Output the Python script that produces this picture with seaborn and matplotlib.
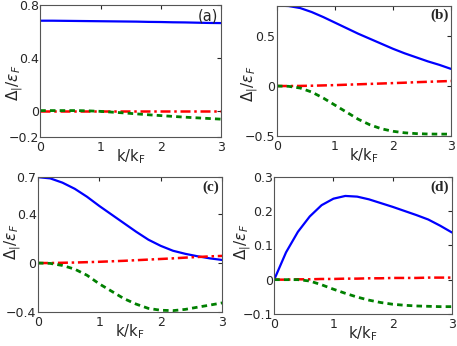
import matplotlib
matplotlib.use("Agg")
import matplotlib.pyplot as plt
import seaborn as sns

sns.set_style("white")
plt.rcParams['font.family'] = ['DejaVu Sans']
plt.rcParams['mathtext.fontset'] = 'dejavusans'

# k/kF sample points
k = [0, 0.2, 0.4, 0.6, 0.8, 1.0, 1.2, 1.4, 1.6, 1.8, 2.0, 2.2, 2.4, 2.6, 2.8, 3.0]

# panel (a)
a_blue = [0.680, 0.680, 0.679, 0.678, 0.677, 0.676, 0.675, 0.674, 0.673, 0.671, 0.670, 0.668, 0.667, 0.665, 0.663, 0.662]
a_red = [0.0, 0.0, 0.0, 0.0, 0.0, 0.0, 0.0, 0.0, 0.0, 0.0, 0.0, 0.0, 0.0, 0.0, 0.0, 0.0]
a_green = [0.0, 0.0, 0.0, 0.0, -0.002, -0.006, -0.012, -0.018, -0.025, -0.032, -0.038, -0.044, -0.050, -0.055, -0.060, -0.065]

# panel (b)
b_blue = [0.800, 0.795, 0.775, 0.735, 0.685, 0.630, 0.575, 0.520, 0.470, 0.420, 0.370, 0.325, 0.285, 0.245, 0.210, 0.170]
b_red = [0.0, 0.0, 0.001, 0.003, 0.006, 0.009, 0.013, 0.017, 0.021, 0.025, 0.029, 0.033, 0.038, 0.042, 0.046, 0.050]
b_green = [0.0, -0.003, -0.020, -0.060, -0.120, -0.190, -0.260, -0.330, -0.385, -0.425, -0.450, -0.465, -0.473, -0.477, -0.478, -0.478]

# panel (c)
c_blue = [0.700, 0.690, 0.655, 0.605, 0.540, 0.465, 0.395, 0.325, 0.255, 0.190, 0.140, 0.100, 0.075, 0.055, 0.038, 0.025]
c_red = [0.0, 0.0, 0.002, 0.004, 0.007, 0.010, 0.014, 0.018, 0.023, 0.028, 0.033, 0.038, 0.044, 0.049, 0.054, 0.058]
c_green = [0.0, -0.003, -0.020, -0.050, -0.100, -0.170, -0.230, -0.290, -0.335, -0.370, -0.385, -0.388, -0.378, -0.360, -0.343, -0.325]

# panel (d)
d_blue = [0.0, 0.080, 0.140, 0.185, 0.218, 0.237, 0.245, 0.243, 0.235, 0.224, 0.213, 0.201, 0.189, 0.176, 0.158, 0.138]
d_red = [0.0, 0.0, 0.001, 0.001, 0.002, 0.002, 0.003, 0.003, 0.004, 0.004, 0.005, 0.005, 0.005, 0.006, 0.006, 0.006]
d_green = [0.0, 0.0, 0.0, -0.004, -0.015, -0.028, -0.040, -0.051, -0.060, -0.067, -0.072, -0.075, -0.077, -0.078, -0.079, -0.079]

panels = [
    ("(a)", a_blue, a_red, a_green, (-0.2, 0.8), [-0.2, 0, 0.4, 0.8], ["\u22120.2", "0", "0.4", "0.8"]),
    ("(b)", b_blue, b_red, b_green, (-0.5, 0.8), [-0.5, 0, 0.5], ["\u22120.5", "0", "0.5"]),
    ("(c)", c_blue, c_red, c_green, (-0.4, 0.7), [-0.4, 0, 0.4, 0.7], ["\u22120.4", "0", "0.4", "0.7"]),
    ("(d)", d_blue, d_red, d_green, (-0.1, 0.3), [-0.1, 0, 0.1, 0.2, 0.3], ["\u22120.1", "0", "0.1", "0.2", "0.3"]),
]

rects = [
    [0.088, 0.604, 0.396, 0.382],
    [0.606, 0.606, 0.381, 0.378],
    [0.083, 0.098, 0.403, 0.390],
    [0.600, 0.093, 0.389, 0.395],
]
# where each y label sits, in axes fractions
ylab_xy = [(-0.14, 0.41), (-0.155, 0.40), (-0.14, 0.52), (-0.18, 0.53)]

fig = plt.figure(figsize=(4.57, 3.46), dpi=100)

for (lab, blue, red, green, ylim, yt, ytl), r, yl in zip(panels, rects, ylab_xy):
    ax = fig.add_axes(r)
    sns.lineplot(x=k, y=blue, ax=ax, color="#0000ff", lw=1.6)
    sns.lineplot(x=k, y=red, ax=ax, color="#ff0000", lw=1.8, linestyle=(0, (4, 1.5, 1, 1.5)))
    sns.lineplot(x=k, y=green, ax=ax, color="#008000", lw=2.0, linestyle=(0, (2, 1.5)))
    ax.set_xlim(0, 3)
    ax.set_ylim(*ylim)
    ax.set_xticks([0, 1, 2, 3])
    ax.set_yticks(yt)
    ax.set_yticklabels(ytl)
    ax.tick_params(direction="in", length=3, labelsize=9, top=True, right=True)
    ax.tick_params(axis="y", pad=1)
    ax.tick_params(axis="x", pad=3)
    for s in ax.spines.values():
        s.set_color("#555555")
        s.set_linewidth(0.8)
    ax.set_xlabel(r"k/k$_\mathregular{F}$", fontsize=10.5)
    ax.xaxis.set_label_coords(0.5, -0.075)
    ax.set_ylabel(r"$\Delta_{|}/\varepsilon_F$", fontsize=11, va="center")
    ax.yaxis.set_label_coords(*yl)
    if lab == "(a)":
        ax.text(0.985, 0.975, lab, transform=ax.transAxes, ha="right", va="top", fontsize=10.5)
    else:
        ax.text(0.985, 0.975, lab, transform=ax.transAxes, ha="right", va="top", fontsize=11,
                family="Liberation Serif", weight="bold")

fig.savefig("out.png", dpi=100)
